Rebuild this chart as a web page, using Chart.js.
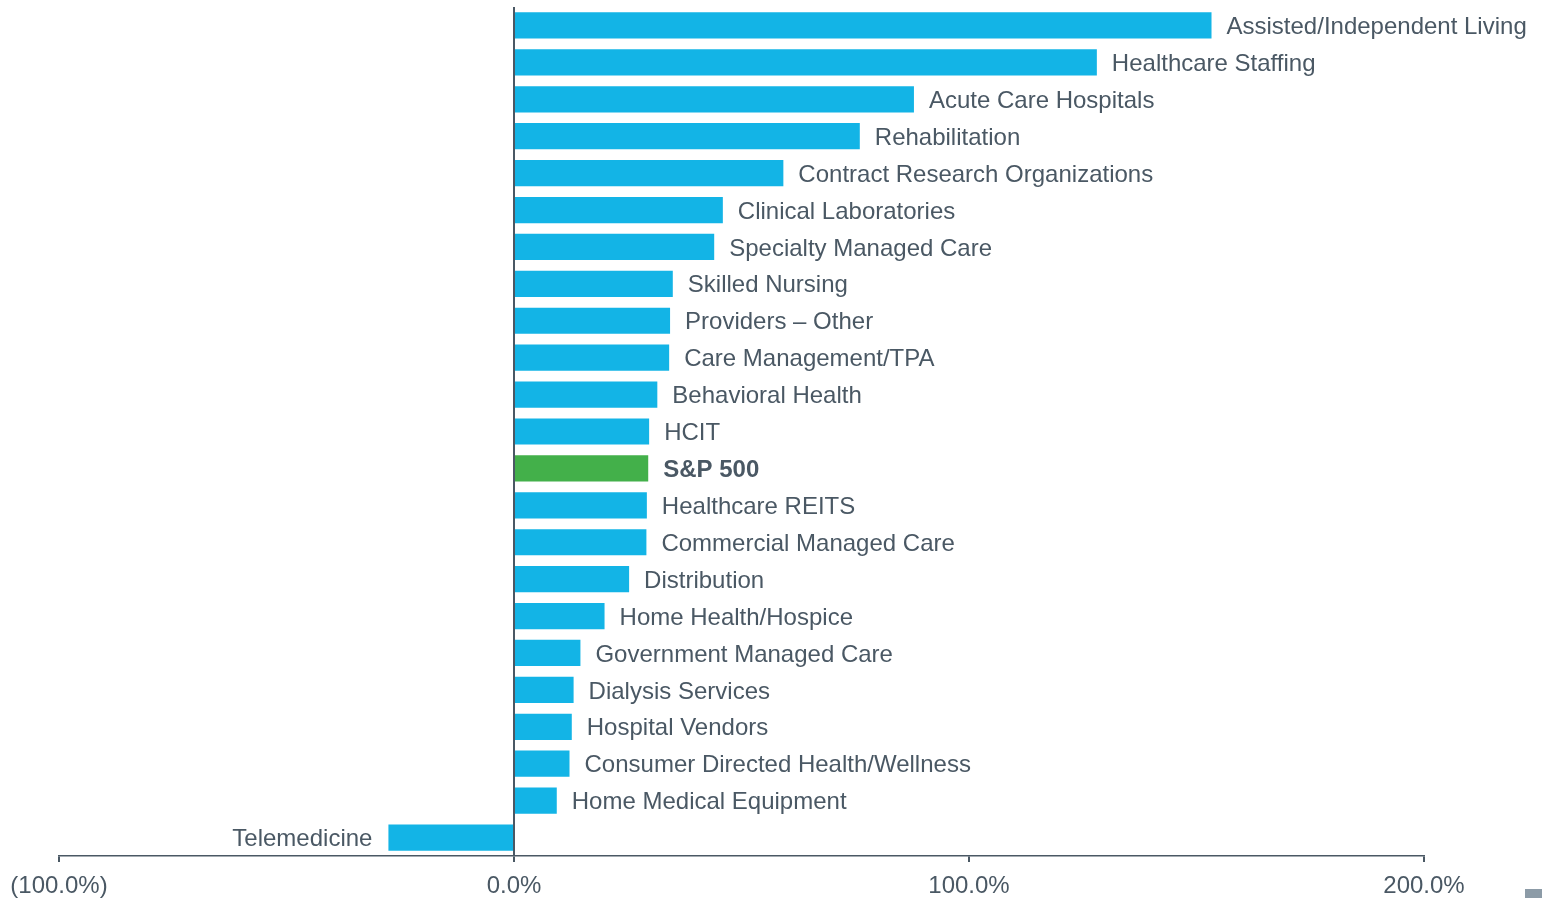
<!DOCTYPE html>
<html>
<head>
<meta charset="utf-8">
<script src="https://cdn.jsdelivr.net/npm/chart.js@4"></script>
<style>
  html, body { margin: 0; padding: 0; background: #fff; }
  #wrap { position: relative; width: 1542px; height: 898px; }
  #marker { position: absolute; left: 1525px; top: 889px; width: 17px; height: 9px; background: #8c9ba7; }
</style>
</head>
<body>
<div id="wrap"><canvas id="c"></canvas><div id="marker"></div></div>
<script>
const categories = [
  "Assisted/Independent Living", "Healthcare Staffing", "Acute Care Hospitals", "Rehabilitation",
  "Contract Research Organizations", "Clinical Laboratories", "Specialty Managed Care", "Skilled Nursing",
  "Providers \u2013 Other", "Care Management/TPA", "Behavioral Health", "HCIT", "S&P 500",
  "Healthcare REITS", "Commercial Managed Care", "Distribution", "Home Health/Hospice",
  "Government Managed Care", "Dialysis Services", "Hospital Vendors",
  "Consumer Directed Health/Wellness", "Home Medical Equipment", "Telemedicine"
];
const values = [
  153.3, 128.1, 87.9, 76.0,
  59.2, 45.9, 44.0, 34.9,
  34.3, 34.1, 31.5, 29.7, 29.5,
  29.2, 29.1, 25.3, 19.9,
  14.6, 13.1, 12.7,
  12.2, 9.4, -27.6
];
const highlight = "S&P 500";
const xTicks = [-100, 0, 100, 200];
const xTickLabels = ["(100.0%)", "0.0%", "100.0%", "200.0%"];

const BLUE = "#13b4e6", GREEN = "#43b04a", TEXT = "#4a5864", AXIS = "#4a5864";
const FONT = "Liberation Sans, Arial, sans-serif";

const labelPlugin = {
  id: "barLabels",
  afterDatasetsDraw(chart) {
    const ctx = chart.ctx;
    const meta = chart.getDatasetMeta(0);
    ctx.save();
    ctx.fillStyle = TEXT;
    ctx.textBaseline = "middle";
    meta.data.forEach((bar, i) => {
      const name = categories[i];
      ctx.font = (name === highlight ? "bold " : "") + "24px " + FONT;
      if (values[i] >= 0) {
        ctx.textAlign = "left";
        ctx.fillText(name, bar.x + 15, bar.y + 2);
      } else {
        ctx.textAlign = "right";
        ctx.fillText(name, bar.x - 16, bar.y + 2);
      }
    });
    ctx.restore();
  }
};

new Chart(document.getElementById("c"), {
  type: "bar",
  data: {
    labels: categories,
    datasets: [{
      data: values,
      backgroundColor: categories.map(c => c === highlight ? GREEN : BLUE),
      borderWidth: 0,
      categoryPercentage: 1.0,
      barPercentage: 0.71
    }]
  },
  options: {
    indexAxis: "y",
    responsive: true,
    maintainAspectRatio: false,
    animation: false,
    layout: { padding: { left: 59, right: 118, top: 7, bottom: 0 } },
    plugins: { legend: { display: false }, tooltip: { enabled: false } },
    scales: {
      x: {
        min: -100, max: 200,
        afterBuildTicks(scale) { scale.ticks = xTicks.map(v => ({ value: v })); },
        afterFit(scale) { scale.height = 42; },
        border: { display: true, color: AXIS, width: 1.5 },
        grid: {
          color: ctx => (ctx.tick && ctx.tick.value === 0) ? AXIS : "transparent",
          lineWidth: 2,
          tickColor: AXIS,
          tickLength: 6,
          drawTicks: true
        },
        ticks: {
          color: TEXT,
          font: { family: FONT, size: 24 },
          padding: 10,
          maxRotation: 0,
          autoSkip: false,
          callback: (v) => { const i = xTicks.indexOf(v); return i >= 0 ? xTickLabels[i] : ""; }
        }
      },
      y: {
        display: false
      }
    }
  },
  plugins: [labelPlugin]
});
</script>
</body>
</html>
